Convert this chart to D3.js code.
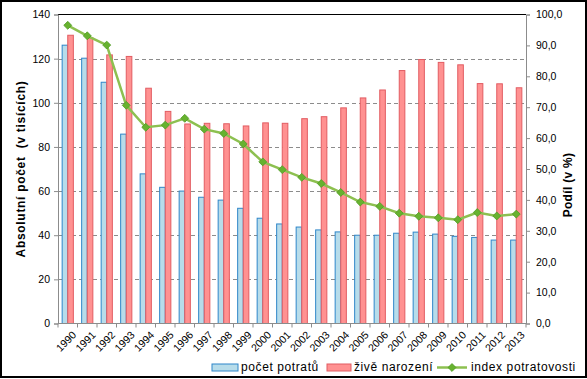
<!DOCTYPE html>
<html>
<head>
<meta charset="utf-8">
<script src="https://cdn.jsdelivr.net/npm/d3@7"></script>
<style>
  body { margin: 0; background: #fff; }
  text { font-family: "Liberation Sans", Arial, sans-serif; fill: #000; }
</style>
</head>
<body>
<svg id="chart" width="587" height="379"></svg>
<script>
// data (thousands / per 100 live births)
var years = ["1990","1991","1992","1993","1994","1995","1996","1997","1998","1999","2000","2001",
             "2002","2003","2004","2005","2006","2007","2008","2009","2010","2011","2012","2013"];
var potraty = [126.1, 120.2, 109.3, 85.8, 67.8, 61.7, 60.0, 57.2, 55.9, 52.2, 47.7, 45.1,
               43.7, 42.4, 41.5, 40.0, 40.0, 40.9, 41.4, 40.5, 39.5, 39.0, 37.8, 37.8];
var narozeni = [130.6, 129.4, 121.7, 121.0, 106.6, 96.1, 90.4, 90.7, 90.5, 89.5, 90.9, 90.7,
                92.8, 93.7, 97.7, 102.2, 105.8, 114.6, 119.6, 118.3, 117.2, 108.7, 108.6, 106.8];
var indexPotr = [96.5, 93.1, 90.1, 70.6, 63.5, 64.2, 66.4, 62.9, 61.5, 58.1, 52.3, 49.8,
                 47.3, 45.3, 42.4, 39.3, 37.9, 35.7, 34.7, 34.2, 33.6, 35.9, 34.8, 35.4];
var leftTicks = [0, 20, 40, 60, 80, 100, 120, 140];
var rightTicks = [0, 10, 20, 30, 40, 50, 60, 70, 80, 90, 100];
var legendLabels = ["počet potratů", "živě narození", "index potratovosti"];

var svg = d3.select("#chart");
var pLeft = 58, pRight = 526, pTop = 14.5, pBottom = 323.5;

var x = d3.scaleBand().domain(years).range([pLeft, pRight]);
var yL = d3.scaleLinear().domain([0, 140]).range([pBottom, pTop]);
var yR = d3.scaleLinear().domain([0, 100]).range([pBottom, pTop]);
var bw = 5.6;

// outer border
svg.append("rect").attr("x", 1).attr("y", 1).attr("width", 585).attr("height", 376)
  .attr("fill", "#fff").attr("stroke", "#000").attr("stroke-width", 2);

// gridlines
svg.append("g").selectAll("line").data(leftTicks.filter(function(d){ return d > 0 && d < 140; }))
  .join("line")
  .attr("x1", pLeft).attr("x2", pRight)
  .attr("y1", function(d){ return Math.round(yL(d)) + 0.5; })
  .attr("y2", function(d){ return Math.round(yL(d)) + 0.5; })
  .attr("stroke", "#8c8c8c").attr("stroke-dasharray", "4,3");

// plot top border
svg.append("line").attr("x1", pLeft).attr("x2", pRight).attr("y1", pTop).attr("y2", pTop)
  .attr("stroke", "#000").attr("stroke-width", 1);

// bars
svg.append("g").selectAll("rect").data(potraty).join("rect")
  .attr("x", function(d, i){ return x(years[i]) + x.bandwidth()/2 - bw; })
  .attr("y", function(d){ return yL(d); })
  .attr("width", bw).attr("height", function(d){ return pBottom - yL(d); })
  .attr("fill", "#b7dcea").attr("stroke", "#2f86c9").attr("stroke-width", 1);

svg.append("g").selectAll("rect").data(narozeni).join("rect")
  .attr("x", function(d, i){ return x(years[i]) + x.bandwidth()/2; })
  .attr("y", function(d){ return yL(d); })
  .attr("width", bw).attr("height", function(d){ return pBottom - yL(d); })
  .attr("fill", "#ff9191").attr("stroke", "#e25c62").attr("stroke-width", 1);

// axes
var axL = svg.append("g").attr("transform", "translate(" + pLeft + ",0)")
  .call(d3.axisLeft(yL).tickValues(leftTicks).tickSize(4).tickPadding(4));
var axR = svg.append("g").attr("transform", "translate(" + pRight + ",0)")
  .call(d3.axisRight(yR).tickValues(rightTicks).tickSize(4).tickPadding(6)
    .tickFormat(function(d){ return d3.format(".1f")(d).replace(".", ","); }));
[axL, axR].forEach(function(a){
  a.select(".domain").attr("stroke", "#8c8c8c");
  a.selectAll(".tick line").attr("stroke", "#8c8c8c");
  a.selectAll("text").attr("font-size", "10.5px").attr("font-family", "Liberation Sans, Arial, sans-serif");
});

var axB = svg.append("g").attr("transform", "translate(0," + pBottom + ")");
axB.append("line").attr("x1", pLeft).attr("x2", pRight).attr("stroke", "#8c8c8c");
axB.selectAll("line.t").data(years.concat(["end"])).join("line").attr("class", "t")
  .attr("x1", function(d, i){ return pLeft + i * x.step(); })
  .attr("x2", function(d, i){ return pLeft + i * x.step(); })
  .attr("y1", 0).attr("y2", 4).attr("stroke", "#8c8c8c");
axB.selectAll("text").data(years).join("text")
  .attr("transform", function(d){ return "translate(" + (x(d) + x.bandwidth()/2 + 4) + ",7) rotate(-45)"; })
  .attr("text-anchor", "end").attr("dy", "0.7em")
  .attr("font-size", "10.5px")
  .text(function(d){ return d; });

// index line
var line = d3.line()
  .x(function(d, i){ return x(years[i]) + x.bandwidth()/2; })
  .y(function(d){ return yR(d); });
svg.append("path").datum(indexPotr).attr("d", line)
  .attr("fill", "none").attr("stroke", "#8dc050").attr("stroke-width", 2.5);
var diamond = d3.symbol().type(d3.symbolDiamond2).size(40);
svg.append("g").selectAll("path").data(indexPotr).join("path")
  .attr("transform", function(d, i){ return "translate(" + (x(years[i]) + x.bandwidth()/2) + "," + yR(d) + ")"; })
  .attr("d", diamond)
  .attr("fill", "#67b22f").attr("stroke", "#4f9a25").attr("stroke-width", 0.8);

// axis titles
svg.append("text").attr("transform", "translate(25," + ((pTop + pBottom)/2) + ") rotate(-90)")
  .attr("text-anchor", "middle").attr("font-weight", "bold").attr("font-size", "12px")
  .attr("letter-spacing", "0.7px")
  .attr("xml:space", "preserve")
  .text("Absolutní počet  (v tisících)");
svg.append("text").attr("transform", "translate(572,185) rotate(-90)")
  .attr("text-anchor", "middle").attr("font-weight", "bold").attr("font-size", "12px")
  .attr("letter-spacing", "0.3px")
  .text("Podíl (v %)");

// legend
var lg = svg.append("g").attr("font-size", "12px");
lg.append("rect").attr("x", 212).attr("y", 364).attr("width", 26).attr("height", 7)
  .attr("fill", "#b7dcea").attr("stroke", "#2f86c9");
lg.append("text").attr("x", 241).attr("y", 371).attr("letter-spacing", "0.6px").text(legendLabels[0]);
lg.append("rect").attr("x", 327).attr("y", 364).attr("width", 24).attr("height", 7)
  .attr("fill", "#ff9191").attr("stroke", "#e25c62");
lg.append("text").attr("x", 354).attr("y", 371).attr("letter-spacing", "0.6px").text(legendLabels[1]);
lg.append("line").attr("x1", 437).attr("x2", 467).attr("y1", 367.5).attr("y2", 367.5)
  .attr("stroke", "#8dc050").attr("stroke-width", 2.5);
lg.append("path").attr("transform", "translate(452,367.5)").attr("d", diamond)
  .attr("fill", "#67b22f").attr("stroke", "#4f9a25").attr("stroke-width", 0.8);
lg.append("text").attr("x", 471).attr("y", 371).attr("letter-spacing", "0.6px").text(legendLabels[2]);
</script>
</body>
</html>
